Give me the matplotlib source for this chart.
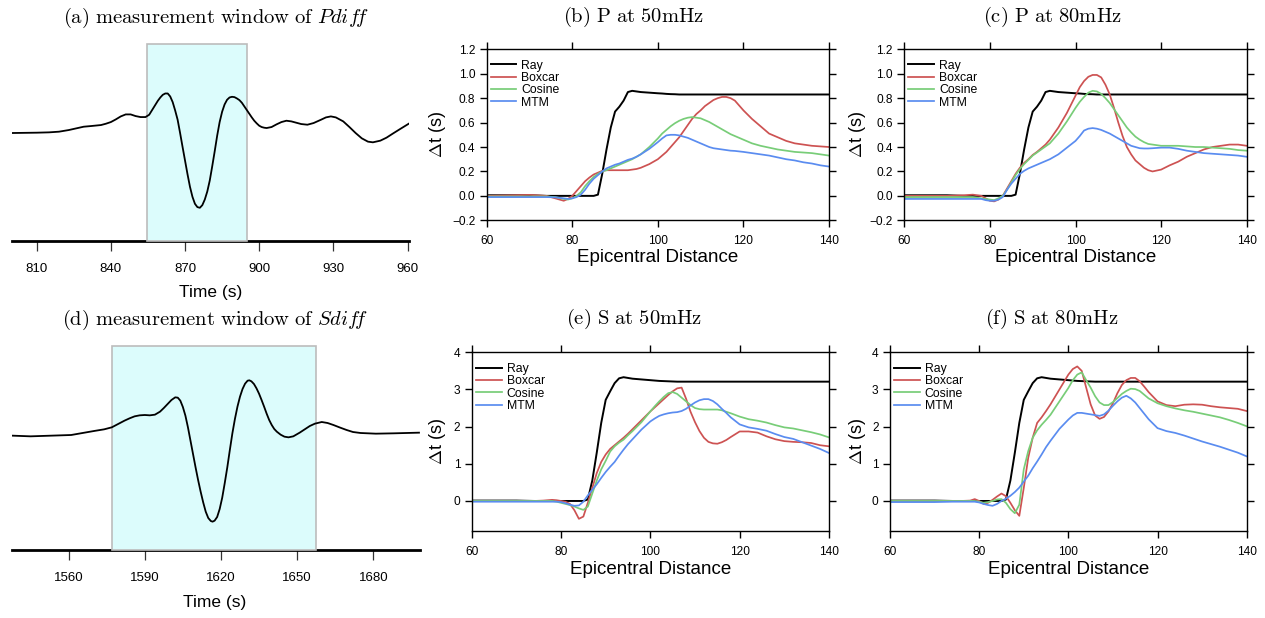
import matplotlib
matplotlib.use("Agg")
import matplotlib.pyplot as plt
from matplotlib.patches import Rectangle

plt.rcParams['font.family'] = ['Liberation Sans', 'DejaVu Sans']
plt.rcParams['mathtext.fontset'] = 'cm'

W, H = 1265, 618

# ── DATA ───────────────────────────────────────────
# seismogram traces (time in s, amplitude in arbitrary units)
PDIFF_T = [800, 810, 815, 819, 823, 826, 829, 832, 836, 838, 840, 842, 844, 846, 848,
           850, 852, 854, 855.5, 857, 858, 859, 860, 861, 862, 863, 864, 865, 866,
           867, 868, 869, 870, 871, 872, 873, 874, 875, 876, 877, 878, 879, 880,
           881, 882, 883, 884, 885, 886, 887, 888, 889, 890, 891, 892, 893, 894,
           895, 896, 897, 898, 899, 900, 901, 902, 903, 905, 907, 909, 911, 913,
           915, 917, 919.5, 922, 925, 927, 929, 931, 934, 936.5, 939, 941.5, 944,
           946, 949, 951.5, 954, 957, 960.5]
PDIFF_A = [0.0, 0.01, 0.02, 0.04, 0.09, 0.14, 0.19, 0.21, 0.24, 0.28, 0.33, 0.41, 0.50, 0.56, 0.56,
           0.51, 0.48, 0.48, 0.55, 0.73, 0.85, 0.97, 1.07, 1.15, 1.19, 1.19, 1.10, 0.93, 0.68,
           0.40, 0.0, -0.42, -0.83, -1.24, -1.62, -1.92, -2.13, -2.23, -2.25, -2.17, -2.0, -1.76, -1.43,
           -1.0, -0.55, -0.08, 0.33, 0.64, 0.86, 1.0, 1.07, 1.09, 1.08, 1.04, 0.99, 0.91, 0.80,
           0.69, 0.58, 0.47, 0.37, 0.29, 0.22, 0.18, 0.16, 0.15, 0.18, 0.26, 0.33, 0.37, 0.35,
           0.31, 0.27, 0.25, 0.30, 0.40, 0.47, 0.50, 0.47, 0.35, 0.18, 0.0, -0.16, -0.26,
           -0.28, -0.23, -0.14, -0.02, 0.12, 0.28]
PDIFF_WIN = [854.7, 895.0]

SDIFF_T = [1538, 1545, 1553, 1561, 1564, 1567, 1570, 1574, 1577, 1580, 1582, 1584, 1586, 1588,
           1590, 1592, 1594, 1596, 1597.5, 1599, 1600.5, 1602, 1603, 1604, 1605, 1606, 1607,
           1608, 1609, 1610, 1611, 1612, 1613, 1614, 1615, 1616, 1616.7, 1617.5, 1618.5,
           1619.5, 1620.5, 1621.5, 1622.5, 1623.5, 1624.5, 1625.5, 1626.5, 1627.5, 1628.5,
           1629.5, 1630.5, 1631.2, 1632, 1633, 1634, 1635, 1636, 1637, 1638, 1639, 1640,
           1641, 1642, 1643.5, 1645, 1646.6, 1648.5, 1651, 1653, 1655, 1657, 1659.7, 1662,
           1664.3, 1667, 1669.5, 1672, 1675, 1681, 1688, 1698]
SDIFF_A = [0.0, -0.02, 0.0, 0.02, 0.06, 0.10, 0.14, 0.19, 0.25, 0.37, 0.45, 0.52, 0.58, 0.61,
           0.62, 0.61, 0.63, 0.72, 0.83, 0.95, 1.07, 1.15, 1.14, 1.05, 0.86, 0.60, 0.25,
           -0.15, -0.55, -0.95, -1.33, -1.68, -2.0, -2.28, -2.47, -2.56, -2.58, -2.55, -2.44,
           -2.2, -1.86, -1.42, -0.95, -0.43, 0.07, 0.50, 0.87, 1.17, 1.40,
           1.56, 1.65, 1.66, 1.63, 1.55, 1.42, 1.26, 1.07, 0.87, 0.66, 0.47, 0.32,
           0.20, 0.12, 0.03, -0.03, -0.05, -0.02, 0.09, 0.19, 0.29, 0.36, 0.41, 0.38,
           0.32, 0.24, 0.17, 0.11, 0.08, 0.06, 0.07, 0.09]
SDIFF_WIN = [1577.2, 1657.4]

# epicentral distance (deg) shared by all delay-time curves
DIST = [60, 70, 74, 76, 78, 79, 80, 81, 82, 83,
        84, 85, 86, 87, 88, 89, 90, 91, 92, 93,
        94, 95, 96, 98, 100, 101, 102, 103, 104, 105,
        106, 107, 108, 109, 110, 111, 112, 113, 114, 115,
        116, 117, 118, 120, 122, 124, 126, 128, 130, 132,
        134, 136, 138, 140]

RAY_P = [0.005, 0.005, 0.0, 0.0, 0.0, 0.0, 0.0, 0.0, 0.0, 0.0,
         0.0, 0.0, 0.01, 0.18, 0.38, 0.56, 0.69, 0.73, 0.78, 0.85,
         0.86, 0.855, 0.85, 0.845, 0.84, 0.838, 0.835, 0.833, 0.832, 0.83,
         0.83, 0.83, 0.83, 0.83, 0.83, 0.83, 0.83, 0.83, 0.83, 0.83,
         0.83, 0.83, 0.83, 0.83, 0.83, 0.83, 0.83, 0.83, 0.83, 0.83,
         0.83, 0.83, 0.83, 0.83]
P50_BOX = [0.0, 0.008, 0.0, -0.02, -0.04, -0.025, 0.0, 0.04, 0.08, 0.12,
           0.15, 0.175, 0.19, 0.205, 0.21, 0.21, 0.21, 0.21, 0.21, 0.21,
           0.215, 0.22, 0.23, 0.26, 0.30, 0.33, 0.36, 0.40, 0.44, 0.48,
           0.53, 0.58, 0.63, 0.67, 0.70, 0.735, 0.76, 0.785, 0.80, 0.81,
           0.81, 0.80, 0.78, 0.70, 0.63, 0.57, 0.51, 0.48, 0.45, 0.43,
           0.42, 0.41, 0.405, 0.40]
P50_COS = [-0.005, -0.005, -0.005, -0.01, -0.025, -0.03, -0.02, 0.0, 0.03, 0.08,
           0.12, 0.155, 0.18, 0.20, 0.21, 0.225, 0.24, 0.255, 0.27, 0.285,
           0.30, 0.32, 0.34, 0.40, 0.47, 0.51, 0.54, 0.57, 0.595, 0.615,
           0.63, 0.64, 0.645, 0.64, 0.635, 0.62, 0.605, 0.585, 0.565, 0.545,
           0.525, 0.505, 0.49, 0.46, 0.43, 0.41, 0.395, 0.38, 0.37, 0.36,
           0.355, 0.35, 0.34, 0.33]
P50_MTM = [-0.01, -0.01, -0.01, -0.012, -0.02, -0.025, -0.02, -0.01, 0.01, 0.05,
           0.10, 0.14, 0.17, 0.20, 0.225, 0.24, 0.255, 0.265, 0.28, 0.295,
           0.305, 0.32, 0.34, 0.385, 0.44, 0.47, 0.495, 0.50, 0.50, 0.495,
           0.485, 0.475, 0.46, 0.445, 0.43, 0.415, 0.40, 0.39, 0.385, 0.38,
           0.375, 0.37, 0.368, 0.36, 0.35, 0.34, 0.33, 0.315, 0.30, 0.29,
           0.275, 0.265, 0.25, 0.24]

P80_BOX = [0.0, 0.0, 0.005, 0.01, 0.0, -0.02, -0.04, -0.045, -0.03, 0.0,
           0.06, 0.12, 0.18, 0.23, 0.27, 0.30, 0.335, 0.36, 0.39, 0.42,
           0.46, 0.51, 0.56, 0.68, 0.82, 0.89, 0.94, 0.975, 0.99, 0.99,
           0.97, 0.91, 0.83, 0.72, 0.60, 0.49, 0.40, 0.34, 0.29, 0.26,
           0.23, 0.21, 0.20, 0.215, 0.25, 0.28, 0.32, 0.35, 0.38, 0.40,
           0.41, 0.42, 0.42, 0.41]
P80_COS = [-0.01, -0.01, -0.01, -0.01, -0.02, -0.025, -0.03, -0.035, -0.02, 0.0,
           0.05, 0.11, 0.17, 0.22, 0.26, 0.295, 0.33, 0.355, 0.38, 0.405,
           0.43, 0.47, 0.51, 0.61, 0.72, 0.77, 0.81, 0.845, 0.86, 0.855,
           0.835, 0.80, 0.76, 0.71, 0.66, 0.61, 0.56, 0.52, 0.485, 0.46,
           0.44, 0.425, 0.42, 0.41, 0.41, 0.41, 0.405, 0.40, 0.40, 0.395,
           0.39, 0.385, 0.375, 0.37]
P80_MTM = [-0.025, -0.025, -0.025, -0.025, -0.025, -0.035, -0.04, -0.04, -0.03, -0.01,
           0.05, 0.10, 0.14, 0.18, 0.205, 0.225, 0.24, 0.255, 0.27, 0.285,
           0.30, 0.32, 0.34, 0.395, 0.45, 0.49, 0.535, 0.55, 0.555, 0.55,
           0.54, 0.525, 0.51, 0.49, 0.47, 0.45, 0.43, 0.41, 0.40, 0.39,
           0.388, 0.388, 0.39, 0.395, 0.395, 0.385, 0.37, 0.36, 0.35, 0.345,
           0.34, 0.335, 0.33, 0.32]

RAY_S = [0.01, 0.01, 0.0, 0.0, 0.0, 0.0, 0.0, 0.0, 0.0, 0.0,
         0.0, 0.0, 0.04, 0.55, 1.3, 2.1, 2.72, 2.95, 3.17, 3.30,
         3.33, 3.31, 3.29, 3.27, 3.25, 3.24, 3.23, 3.225, 3.22, 3.215,
         3.21, 3.21, 3.21, 3.21, 3.21, 3.21, 3.21, 3.21, 3.21, 3.21,
         3.21, 3.21, 3.21, 3.21, 3.21, 3.21, 3.21, 3.21, 3.21, 3.21,
         3.21, 3.21, 3.21, 3.21]
S50_BOX = [0.0, 0.0, 0.0, 0.01, 0.03, 0.02, 0.0, -0.02, -0.08, -0.25,
           -0.48, -0.42, -0.05, 0.35, 0.75, 1.05, 1.25, 1.40, 1.50, 1.60,
           1.70, 1.81, 1.93, 2.17, 2.41, 2.52, 2.63, 2.74, 2.85, 2.95,
           3.03, 3.05, 2.75, 2.40, 2.12, 1.88, 1.70, 1.59, 1.55, 1.54,
           1.58, 1.64, 1.72, 1.87, 1.87, 1.84, 1.74, 1.66, 1.61, 1.59,
           1.58, 1.56, 1.50, 1.47]
S50_COS = [0.0, 0.0, 0.0, 0.0, 0.0, -0.02, -0.05, -0.08, -0.11, -0.15,
           -0.20, -0.24, -0.15, 0.2, 0.55, 0.85, 1.08, 1.33, 1.47, 1.57,
           1.65, 1.77, 1.88, 2.12, 2.41, 2.55, 2.68, 2.80, 2.90, 2.93,
           2.88, 2.78, 2.68, 2.58, 2.50, 2.47, 2.46, 2.46, 2.46, 2.46,
           2.44, 2.40, 2.36, 2.27, 2.20, 2.16, 2.11, 2.04, 1.98, 1.95,
           1.90, 1.85, 1.79, 1.71]
S50_MTM = [-0.02, -0.02, -0.02, -0.02, -0.02, -0.02, -0.03, -0.06, -0.10, -0.13,
           -0.12, -0.02, 0.15, 0.30, 0.45, 0.62, 0.78, 0.92, 1.05, 1.22,
           1.38, 1.53, 1.66, 1.92, 2.14, 2.22, 2.29, 2.33, 2.36, 2.38,
           2.39, 2.42, 2.48, 2.57, 2.65, 2.71, 2.74, 2.74, 2.69, 2.60,
           2.48, 2.37, 2.25, 2.06, 1.98, 1.94, 1.89, 1.80, 1.72, 1.67,
           1.58, 1.49, 1.40, 1.29]

S80_BOX = [0.0, 0.0, 0.0, 0.0, 0.01, 0.05, 0.0, -0.08, -0.05, 0.03,
           0.12, 0.20, 0.13, -0.05, -0.25, -0.40, 0.35, 1.16, 1.70, 2.10,
           2.25, 2.42, 2.60, 3.00, 3.40, 3.55, 3.62, 3.50, 3.05, 2.60,
           2.30, 2.21, 2.26, 2.41, 2.63, 2.90, 3.12, 3.25, 3.31, 3.31,
           3.22, 3.08, 2.93, 2.68, 2.58, 2.55, 2.59, 2.60, 2.59, 2.55,
           2.52, 2.50, 2.48, 2.42]
S80_COS = [0.0, 0.0, 0.0, 0.0, 0.0, 0.0, -0.02, -0.05, -0.03, 0.0,
           0.04, 0.05, -0.05, -0.22, -0.33, -0.10, 0.85, 1.34, 1.70, 1.90,
           2.05, 2.18, 2.32, 2.68, 3.04, 3.25, 3.40, 3.46, 3.25, 3.05,
           2.82, 2.65, 2.58, 2.58, 2.66, 2.77, 2.88, 2.96, 3.02, 3.01,
           2.96, 2.86, 2.76, 2.63, 2.55, 2.49, 2.44, 2.40, 2.35, 2.30,
           2.25, 2.18, 2.10, 2.01]
S80_MTM = [-0.03, -0.03, -0.02, -0.02, -0.02, -0.02, -0.04, -0.08, -0.11, -0.13,
           -0.08, 0.0, 0.06, 0.14, 0.24, 0.36, 0.52, 0.68, 0.88, 1.06,
           1.25, 1.45, 1.62, 1.94, 2.19, 2.30, 2.37, 2.37, 2.35, 2.33,
           2.31, 2.29, 2.33, 2.43, 2.56, 2.68, 2.78, 2.83, 2.76, 2.65,
           2.50, 2.35, 2.20, 1.96, 1.88, 1.83, 1.76, 1.68, 1.60, 1.53,
           1.46, 1.38, 1.30, 1.20]

NAMES  = ['Ray', 'Boxcar', 'Cosine', 'MTM']
COLORS = ['black', '#cd5252', '#78cd78', '#5a8cf0']

# ── FIGURE ─────────────────────────────────────────
fig = plt.figure(figsize=(W / 100, H / 100), dpi=100)


def rect(l, t, r, b):
    # pixel box -> figure fraction
    return [l / W, 1 - b / H, (r - l) / W, (b - t) / H]


def ftext(x, y, s, **kw):
    fig.text(x / W, 1 - y / H, s, ha='center', va='center', **kw)


def wave_panel(box, t, a, xlim, ylim, ticks, win, win_top, label_xy):
    ax = fig.add_axes(box)
    ax.add_patch(Rectangle((win[0], ylim[0]), win[1] - win[0], win_top - ylim[0],
                           facecolor='#dcfcfc', edgecolor='#bcbcbc', lw=1.2,
                           zorder=3, clip_on=False))
    ax.plot(t, a, color='black', lw=1.3, zorder=4)
    ax.set_xlim(xlim); ax.set_ylim(ylim)
    for s in ('left', 'right', 'top'):
        ax.spines[s].set_visible(False)
    ax.spines['bottom'].set_linewidth(2.0)
    ax.set_yticks([])
    ax.set_xticks(ticks)
    ax.tick_params(axis='x', direction='out', length=7, width=0.9, color='#333333',
                   labelsize=9.5, pad=9)
    ftext(*label_xy, 'Time (s)', fontsize=12.5)
    return ax


def dt_panel(box, curves, ylim, yticks, ylab_x, xlab_y):
    ax = fig.add_axes(box)
    for y, name, c in zip(curves, NAMES, COLORS):
        ax.plot(DIST, y, color=c, lw=1.4 if name == 'Ray' else 1.25, label=name)
    ax.set_xlim(60, 140); ax.set_ylim(ylim)
    ax.set_xticks([60, 80, 100, 120, 140]); ax.set_yticks(yticks)
    ax.tick_params(direction='out', length=5.2, width=1.0, labelsize=8.6, pad=3,
                   top=True, right=True)
    ax.tick_params(axis='x', pad=5.5)
    for s in ax.spines.values():
        s.set_linewidth(1.0)
    ax.legend(loc='upper left', bbox_to_anchor=(0.012, 0.94), frameon=False,
              fontsize=8.8, handlelength=2.1, handletextpad=0.4, labelspacing=0.03,
              borderpad=0, borderaxespad=0)
    pos = ax.get_position()
    cy = (1 - (pos.y0 + pos.height / 2)) * H
    cx = (pos.x0 + pos.width / 2) * W
    ftext(ylab_x, cy, r'$\Delta$t (s)', fontsize=13, rotation=90)
    ftext(cx, xlab_y, 'Epicentral Distance', fontsize=13.5)
    return ax


P_TICKS = [-0.2, 0.0, 0.2, 0.4, 0.6, 0.8, 1.0, 1.2]
S_TICKS = [0, 1, 2, 3, 4]
TFS = 14.8

# (a) Pdiff window
wave_panel(rect(12, 35, 409, 241), PDIFF_T, PDIFF_A, (800, 960.6), (-3.25, 2.95),
           [810, 840, 870, 900, 930, 960], PDIFF_WIN, 2.67, (211, 293))
ftext(216, 18, r'$\mathrm{(a)\ measurement\ window\ of\ }\mathit{Pdif\!f}$', fontsize=TFS)

# (d) Sdiff window
wave_panel(rect(12, 340, 420, 550), SDIFF_T, SDIFF_A, (1537.7, 1698.4), (-3.43, 2.87),
           [1560, 1590, 1620, 1650, 1680], SDIFF_WIN, 2.69, (215, 602))
ftext(215, 320, r'$\mathrm{(d)\ measurement\ window\ of\ }\mathit{Sdif\!f}$', fontsize=TFS)

# (b) (c) P delay times
dt_panel(rect(486.7, 49.3, 829, 220.3), [RAY_P, P50_BOX, P50_COS, P50_MTM],
         (-0.2, 1.2), P_TICKS, 437, 257)
ftext(634, 17, r'$\mathrm{(b)\ P\ at\ 50mHz}$', fontsize=TFS)
dt_panel(rect(904.3, 49.3, 1246.7, 220.3), [RAY_P, P80_BOX, P80_COS, P80_MTM],
         (-0.2, 1.2), P_TICKS, 857, 257)
ftext(1052, 17, r'$\mathrm{(c)\ P\ at\ 80mHz}$', fontsize=TFS)

# (e) (f) S delay times
dt_panel(rect(471.7, 352.3, 829, 530.7), [RAY_S, S50_BOX, S50_COS, S50_MTM],
         (-0.8, 4.0), S_TICKS, 437, 570)
ftext(634, 319, r'$\mathrm{(e)\ S\ at\ 50mHz}$', fontsize=TFS)
dt_panel(rect(890, 352.3, 1246.7, 530.7), [RAY_S, S80_BOX, S80_COS, S80_MTM],
         (-0.8, 4.0), S_TICKS, 857, 570)
ftext(1052, 319, r'$\mathrm{(f)\ S\ at\ 80mHz}$', fontsize=TFS)

fig.savefig('out.png', dpi=100, facecolor='white')
